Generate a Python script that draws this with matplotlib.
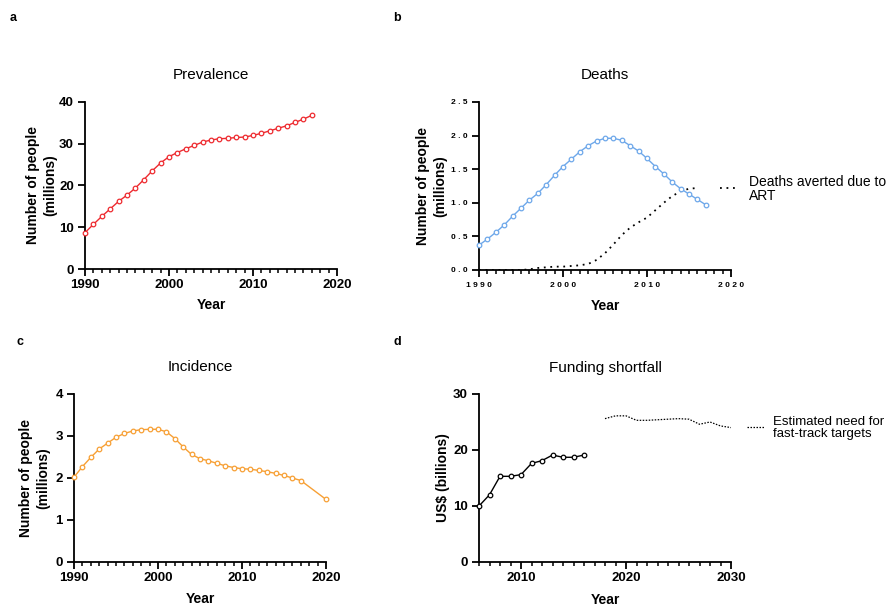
import numpy as np
import matplotlib
matplotlib.use('Agg')
import matplotlib.pyplot as plt
from matplotlib.ticker import MultipleLocator, FuncFormatter
from matplotlib.lines import Line2D

plt.rcParams['font.family'] = ['Liberation Sans', 'DejaVu Sans']

# ---- data ----
prev_years = list(range(1990, 2018))
prevalence = [8.7, 10.7, 12.6, 14.4, 16.2, 17.7, 19.4, 21.4, 23.5, 25.4,
              26.9, 27.9, 28.8, 29.6, 30.4, 30.9, 31.2, 31.3, 31.5, 31.6,
              32.0, 32.5, 33.1, 33.7, 34.3, 35.1, 35.9, 36.8]

death_years = list(range(1990, 2018))
deaths = [0.37, 0.46, 0.56, 0.67, 0.80, 0.92, 1.04, 1.14, 1.27, 1.41,
          1.54, 1.65, 1.76, 1.85, 1.92, 1.96, 1.96, 1.93, 1.85, 1.77,
          1.66, 1.54, 1.43, 1.31, 1.21, 1.13, 1.05, 0.97]

averted_years = list(range(1990, 2017))
averted = [0.0, 0.0, 0.0, 0.0, 0.0, 0.0, 0.01, 0.03, 0.04, 0.05,
           0.05, 0.06, 0.07, 0.09, 0.15, 0.25, 0.38, 0.52, 0.63, 0.71,
           0.78, 0.89, 1.00, 1.10, 1.17, 1.21, 1.22]

inc_years = list(range(1990, 2018)) + [2020]
incidence = [2.02, 2.27, 2.49, 2.69, 2.83, 2.97, 3.06, 3.12, 3.15, 3.16,
             3.16, 3.10, 2.94, 2.74, 2.56, 2.46, 2.41, 2.35, 2.29, 2.25,
             2.22, 2.21, 2.18, 2.15, 2.11, 2.06, 2.00, 1.94, 1.49]

fund_years = list(range(2006, 2017))
funding = [10.0, 12.0, 15.3, 15.3, 15.6, 17.6, 18.1, 19.1, 18.7, 18.7, 19.1]

need_years = list(range(2018, 2031))
need = [25.6, 26.1, 26.1, 25.3, 25.3, 25.4, 25.5, 25.6, 25.5, 24.6, 25.0, 24.3, 24.0]

RED = '#ee2a2f'
BLUE = '#6ea8ea'
ORANGE = '#f7a035'

W, H = 893, 606
fig = plt.figure(figsize=(W / 100, H / 100), dpi=100)


def box(left, bottom, right, top):
    return [left / W, 1 - bottom / H, (right - left) / W, (bottom - top) / H]


axA = fig.add_axes(box(85, 269, 337, 102))
axB = fig.add_axes(box(479, 270, 731, 102))
axC = fig.add_axes(box(74, 562, 326, 394))
axD = fig.add_axes(box(479, 562, 731, 394))


def style(ax, tick_fs=9.5):
    for s in ['top', 'right']:
        ax.spines[s].set_visible(False)
    for s in ['left', 'bottom']:
        ax.spines[s].set_linewidth(1.3)
    ax.tick_params(which='major', length=5, width=1.3, direction='out',
                   labelsize=tick_fs, pad=2)
    ax.tick_params(axis='y', which='major', pad=3)
    ax.tick_params(which='minor', length=3, width=1.1, direction='out')
    ax.yaxis.set_minor_locator(plt.NullLocator())
    for lab in ax.get_xticklabels() + ax.get_yticklabels():
        lab.set_fontweight('bold')


mk = dict(marker='o', markersize=3.3, markerfacecolor='white', markeredgewidth=0.9,
          lw=1.0, clip_on=False, zorder=3)

# a: prevalence
axA.plot(prev_years, prevalence, color=RED, markeredgecolor=RED, **mk)
axA.set_xlim(1990, 2020)
axA.set_ylim(0, 40)
axA.xaxis.set_major_locator(MultipleLocator(10))
axA.xaxis.set_minor_locator(MultipleLocator(1))
axA.yaxis.set_major_locator(MultipleLocator(10))
style(axA)

# b: deaths
axB.plot(death_years, deaths, color=BLUE, markeredgecolor=BLUE, **mk)
axB.plot(averted_years, averted, color='black', lw=1.3, linestyle=(0, (1, 2.6)),
         zorder=2)
axB.set_xlim(1990, 2020)
axB.set_ylim(0, 2.5)
axB.xaxis.set_major_locator(MultipleLocator(10))
axB.xaxis.set_minor_locator(MultipleLocator(1))
axB.yaxis.set_major_locator(MultipleLocator(0.5))
axB.xaxis.set_major_formatter(FuncFormatter(lambda v, p: ' '.join(f'{v:.0f}')))
axB.yaxis.set_major_formatter(FuncFormatter(lambda v, p: ' '.join(f'{v:.1f}')))
style(axB, tick_fs=6)
axB.tick_params(axis='x', which='major', pad=4)

# c: incidence
axC.plot(inc_years, incidence, color=ORANGE, markeredgecolor=ORANGE, **mk)
axC.set_xlim(1990, 2020)
axC.set_ylim(0, 4)
axC.xaxis.set_major_locator(MultipleLocator(10))
axC.xaxis.set_minor_locator(MultipleLocator(1))
axC.yaxis.set_major_locator(MultipleLocator(1))
style(axC)

# d: funding
axD.plot(fund_years, funding, color='black', markeredgecolor='black', **mk)
axD.plot(need_years, need, color='black', lw=0.9, linestyle=(0, (1.2, 1.2)))
axD.set_xlim(2006, 2030)
axD.set_ylim(0, 30)
axD.set_xticks([2010, 2020, 2030])
axD.xaxis.set_minor_locator(MultipleLocator(1))
axD.yaxis.set_major_locator(MultipleLocator(10))
style(axD)

# axis labels
lab_kw = dict(fontsize=10, fontweight='bold')
for ax, xl, yl, ylx, xly in [
        (axA, 'Year', 'Number of people\n(millions)', -0.111, -0.175),
        (axB, 'Year', 'Number of people\n(millions)', -0.127, -0.17),
        (axC, 'Year', 'Number of people\n(millions)', -0.095, -0.178),
        (axD, 'Year', 'US$ (billions)', -0.115, -0.183)]:
    ax.set_xlabel(xl, **lab_kw)
    ax.set_ylabel(yl, linespacing=1.3, **lab_kw)
    ax.yaxis.set_label_coords(ylx, 0.5)
    ax.xaxis.set_label_coords(0.5, xly)

# titles
for ax, t, ty in [(axA, 'Prevalence', 75), (axB, 'Deaths', 75),
                  (axC, 'Incidence', 367), (axD, 'Funding shortfall', 368)]:
    pos = ax.get_position()
    fig.text((pos.x0 + pos.x1) / 2, 1 - ty / H, t, ha='center', va='center',
             fontsize=11)

# panel letters
for lt, x, y in [('a', 13, 18), ('b', 397, 18), ('c', 20, 342), ('d', 397, 342)]:
    fig.text(x / W, 1 - y / H, lt, ha='center', va='center', fontsize=9,
             fontweight='bold')

# legends
fig.add_artist(Line2D([720 / W, 738 / W], [1 - 188 / H, 1 - 188 / H],
                      transform=fig.transFigure, color='black', lw=1.3,
                      linestyle=(0, (1, 2.6))))
fig.text(749 / W, 1 - 189 / H, 'Deaths averted due to\nART', ha='left',
         va='center', fontsize=10, linespacing=1.05)
fig.add_artist(Line2D([747 / W, 764 / W], [1 - 427 / H, 1 - 427 / H],
                      transform=fig.transFigure, color='black', lw=0.9,
                      linestyle=(0, (1.2, 1.2))))
fig.text(773 / W, 1 - 428 / H, 'Estimated need for\nfast-track targets',
         ha='left', va='center', fontsize=9.5, linespacing=1.1)

fig.savefig('out.png', dpi=100)
